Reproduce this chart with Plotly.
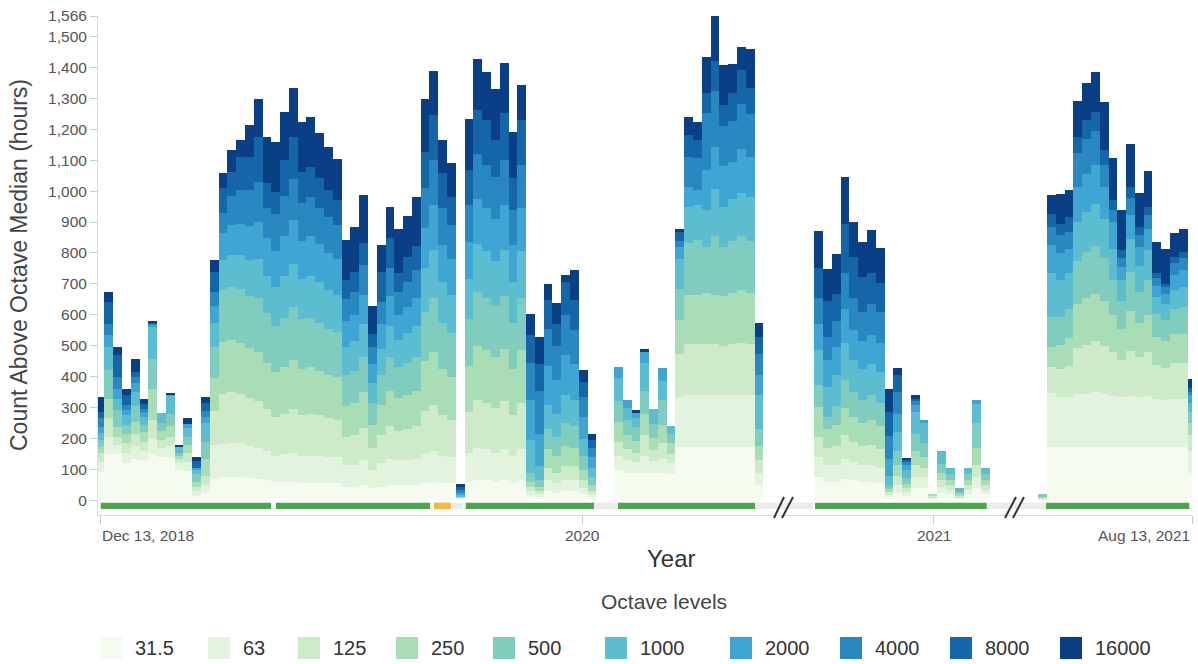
import plotly.graph_objects as go

# ---------------- data ----------------
octaves = ['31.5', '63', '125', '250', '500', '1000', '2000', '4000', '8000', '16000']
colors = ['#f5fbee', '#e3f4de', '#cdebc8', '#a9ddb6', '#80cdc0',
          '#5cbdd0', '#3fa5d3', '#2a88c1', '#1566a9', '#0b3f85']

# weekly counts per octave band, three recorded periods (76, 20 and 18 weeks)
o31_5 = [93,151,150,120,135,130,150,140,140,100,95,15,25,
         70,76,75,75,72,70,65,60,60,60,55,55,55,55,55,
         45,45,50,40,45,50,50,50,50,55,60,55,55,
         5,
         60,65,65,60,65,55,65,
         15,10,30,25,30,30,20,10,
         0,0,
         100,90,88,88,88,90,85,
         174,174,174,174,174,174,174,174,174,50,
         76,60,60,70,65,60,60,55,10,25,15,40,
         40,5,25,20,5,20,40,20,
         3,174,174,174,174,174,174,174,174,174,174,174,174,174,174,174,174,90]
o63 = [32,54,30,35,40,30,50,30,35,20,30,15,25,
       110,107,110,110,105,100,95,85,90,95,90,90,90,85,85,
       70,70,80,60,75,85,80,80,85,95,100,90,85,
       3,
       95,105,100,95,100,90,100,
       15,10,35,30,35,35,20,10,
       0,0,
       45,40,35,55,40,45,35,
       160,166,166,166,166,166,166,166,166,40,
       65,55,55,65,60,55,55,50,8,25,12,35,
       35,5,20,15,5,15,35,15,
       3,172,160,160,170,170,175,170,165,160,165,160,165,155,150,155,155,70]
o125 = [27,60,25,30,40,30,60,25,30,15,30,15,30,
        110,162,165,160,155,150,135,125,130,140,130,135,130,125,120,
        90,95,105,70,90,105,95,100,105,140,150,130,120,
        2,
        130,155,150,145,155,130,150,
        15,10,40,35,45,45,25,12,
        0,0,
        45,35,30,70,35,50,30,
        140,165,165,165,165,160,165,170,165,40,
        65,55,60,75,65,60,65,60,8,30,12,40,
        30,5,20,15,5,15,40,15,
        3,86,90,100,150,160,165,155,140,120,145,130,140,110,105,115,115,50]
o250 = [22,64,32,30,40,30,100,30,35,10,25,15,55,
        105,167,170,165,160,160,150,145,150,160,150,150,145,140,140,
        100,105,115,75,100,115,105,110,115,160,170,150,140,
        2,
        150,175,170,165,170,150,170,
        15,12,60,55,65,60,35,18,
        0,0,
        65,45,40,65,40,60,35,
        110,160,160,165,160,160,165,170,165,45,
        97,60,70,90,80,75,80,75,10,35,15,45,
        35,5,25,15,5,15,54,15,
        3,65,80,90,140,150,155,145,120,100,130,110,120,90,85,95,95,40]
o500 = [22,92,54,30,50,25,97,25,40,10,25,25,55,
        100,168,170,175,170,175,160,150,160,170,160,160,155,150,145,
        100,105,115,70,95,110,100,105,110,160,175,150,140,
        2,
        150,175,170,165,170,150,170,
        30,25,65,60,75,70,45,25,
        0,0,
        65,50,45,75,45,80,30,
        100,166,178,150,191,160,170,175,170,57,
        70,40,60,90,80,75,80,75,12,45,20,55,
        45,0,29,20,8,20,81,20,
        8,97,90,95,140,150,155,140,115,90,125,100,115,75,70,80,85,35]
o1000 = [21,75,38,30,45,25,105,34,59,20,30,15,60,
         80,97,105,110,115,125,120,125,135,140,130,135,130,125,120,
         90,95,105,65,85,100,90,95,100,140,155,130,125,
         3,
         130,155,150,145,150,130,150,
         105,45,80,75,90,85,55,30,
         0,0,
         75,40,30,90,49,60,27,
         95,118,113,118,150,130,135,140,140,108,
         113,97,100,120,105,100,100,100,32,60,25,70,
         65,0,40,21,12,21,61,21,
         0,140,120,115,125,130,135,125,100,70,105,85,95,55,50,60,65,30]
o2000 = [21,38,32,16,30,15,8,0,2,0,13,5,20,
         55,86,95,100,110,120,125,115,130,140,125,130,125,120,115,
         85,85,95,60,80,95,80,85,90,130,145,120,115,
         8,
         120,145,140,135,145,120,140,
         130,102,125,110,130,115,70,35,
         0,0,
         37,26,15,38,0,43,0,
         40,65,48,129,138,130,120,140,130,65,
         86,86,90,110,95,90,95,95,54,60,15,25,
         9,0,0,0,0,0,15,0,
         0,91,85,80,115,120,125,105,85,40,80,60,70,35,35,50,55,25]
o4000 = [28,37,38,16,20,12,2,0,0,0,0,0,20,
         45,65,95,110,115,130,95,120,130,135,120,125,115,115,110,
         70,75,95,55,70,90,75,80,90,130,145,120,110,
         10,
         120,145,140,135,145,115,140,
         118,140,118,110,130,110,65,30,
         0,0,
         0,0,0,0,0,0,0,
         20,97,102,185,180,130,130,145,140,70,
         81,75,85,115,105,95,100,100,75,70,10,10,
         0,0,0,0,0,0,0,0,
         0,59,60,55,110,115,110,70,40,30,55,40,45,25,20,40,40,10]
o8000 = [21,70,70,34,16,14,2,0,0,0,0,21,25,
         65,81,77,106,109,144,80,73,116,136,102,98,96,88,81,
         62,62,71,44,99,97,59,83,76,118,146,112,92,
         10,
         113,142,145,120,151,101,145,
         91,88,94,72,106,97,48,26,
         0,0,
         0,0,0,0,0,0,0,
         29,70,59,65,97,69,91,112,83,54,
         97,118,89,160,133,113,99,92,76,54,10,9,
         0,0,0,0,0,0,0,0,
         0,43,36,48,52,61,63,49,32,26,35,25,26,15,12,19,20,12]
o16000 = [46,34,28,20,40,18,6,0,5,5,18,16,21,
          37,50,70,54,102,124,151,160,156,156,160,160,148,138,134,
          129,147,156,90,88,100,142,131,161,169,142,108,108,
          7,
          165,164,155,164,164,151,114,
          68,86,54,65,22,97,38,20,
          0,0,
          0,0,11,10,0,0,0,
          11,57,58,118,145,128,95,73,127,45,
          122,103,129,151,111,113,140,114,76,24,3,11,
          0,0,0,0,0,0,0,0,
          0,61,97,86,116,118,129,156,135,129,137,110,115,102,113,75,75,32]

series = [o31_5, o63, o125, o250, o500, o1000, o2000, o4000, o8000, o16000]

# recorded periods: number of weekly bars and the (compressed) week where each starts
period_weeks = [76, 20, 18]
period_start = [0.0, 81.8, 107.3]

# x-axis ticks (week positions on the compressed axis)
tick_pos = [0.0, 54.87, 94.93, 124.3]
tick_text = ['Dec 13, 2018', '2020', '2021', 'Aug 13, 2021']
y_ticks = [v for v in list(range(0, 1600, 100)) + [1566] if v <= 1566]

# deployment status timeline (week positions)
tl_start = [0.08, 20.03, 38.02, 40.07, 41.63, 56.23, 58.96, 74.56, 81.39, 100.97, 107.68]
tl_end = [19.47, 37.56, 39.95, 41.32, 56.23, 58.85, 74.56, 81.16, 100.93, 107.68, 124.0]
tl_status = ['ok', 'ok', 'partial', 'off', 'ok', 'off', 'ok', 'off', 'ok', 'off', 'ok']
status_color = {'ok': '#4ba64b', 'partial': '#f5b942', 'off': '#ececec'}

# ---------------- figure ----------------
x = []
for n, s in zip(period_weeks, period_start):
    x += [s + i for i in range(n)]

FONT = 'Liberation Sans, Arial, sans-serif'
fig = go.Figure()
for name, vals, col in zip(octaves, series, colors):
    fig.add_trace(go.Bar(x=x, y=vals, width=1.0, name=name,
                         marker=dict(color=col, line=dict(width=0)),
                         showlegend=False))

W, H = 1198, 664
L, R, T, B = 98, 6, 16, 149
pw, ph = W - L - R, H - T - B


def px_x(p):
    return (p - L) / pw


def px_y(p):
    return (H - B - p) / ph


shapes = []
for a, b, s in zip(tl_start, tl_end, tl_status):
    shapes.append(dict(type='rect', xref='x', yref='y', x0=a, x1=b, y0=-28, y1=-7,
                       fillcolor=status_color[s], line=dict(width=0), layer='above'))

# axis break marks
for (x0, y0, x1, y1) in [(774, 518, 784, 497), (782, 518, 793, 497),
                         (1005, 518, 1016, 497), (1013, 518, 1024, 497)]:
    shapes.append(dict(type='line', xref='paper', yref='paper',
                       x0=px_x(x0), y0=px_y(y0), x1=px_x(x1), y1=px_y(y1),
                       line=dict(color='#333', width=2)))

annotations = []
anchors = ['left', 'center', 'center', 'right']
for p, t, a in zip(tick_pos, tick_text, anchors):
    annotations.append(dict(x=p, xref='x', y=px_y(535), yref='paper', text=t,
                            xanchor=a, yanchor='middle', showarrow=False,
                            font=dict(family=FONT, size=15.5, color='#555')))

annotations.append(dict(x=px_x(671), y=px_y(558), xref='paper', yref='paper', text='Year',
                        showarrow=False, xanchor='center', yanchor='middle',
                        font=dict(family=FONT, size=24, color='#333')))
annotations.append(dict(x=px_x(19), y=px_y(265), xref='paper', yref='paper',
                        text='Count Above Octave Median (hours)', textangle=-90,
                        showarrow=False, xanchor='center', yanchor='middle',
                        font=dict(family=FONT, size=23, color='#444')))
annotations.append(dict(x=px_x(664), y=px_y(601), xref='paper', yref='paper',
                        text='Octave levels', showarrow=False, xanchor='center', yanchor='middle',
                        font=dict(family=FONT, size=21, color='#444')))

# legend row
sq_left = [100, 208, 298, 396, 493, 605, 730, 840, 950, 1060]
for left, name, col in zip(sq_left, octaves, colors):
    shapes.append(dict(type='rect', xref='paper', yref='paper',
                       x0=px_x(left), x1=px_x(left + 22), y0=px_y(659), y1=px_y(637),
                       fillcolor=col, line=dict(width=0)))
    annotations.append(dict(x=px_x(left + 33), y=px_y(648), xref='paper', yref='paper',
                            text=name, showarrow=False, xanchor='left', yanchor='middle',
                            font=dict(family=FONT, size=20, color='#333')))

fig.update_layout(
    width=W, height=H,
    margin=dict(l=L, r=R, t=T, b=B, pad=0),
    barmode='stack', bargap=0,
    plot_bgcolor='white', paper_bgcolor='white',
    font=dict(family=FONT, color='#555'),
    shapes=shapes, annotations=annotations,
    xaxis=dict(range=[-0.228, 124.3], showgrid=False, zeroline=False,
               showline=True, linecolor='#dddddd', linewidth=1,
               tickmode='array', tickvals=tick_pos, ticktext=['', '', '', ''],
               ticks='outside', ticklen=8, tickcolor='#cccccc', showticklabels=False),
    yaxis=dict(range=[-47, 1566], showgrid=False, zeroline=False,
               showline=True, linecolor='#dddddd', linewidth=1,
               tickmode='array', tickvals=y_ticks,
               ticktext=[f'{v:,}' for v in y_ticks],
               ticks='outside', ticklen=7, tickcolor='#cccccc',
               tickfont=dict(family=FONT, size=15.5, color='#555')),
)

fig.write_html('out.html', config={'displayModeBar': False},
               post_script="document.body.style.margin='0px';document.body.style.overflow='hidden';")
